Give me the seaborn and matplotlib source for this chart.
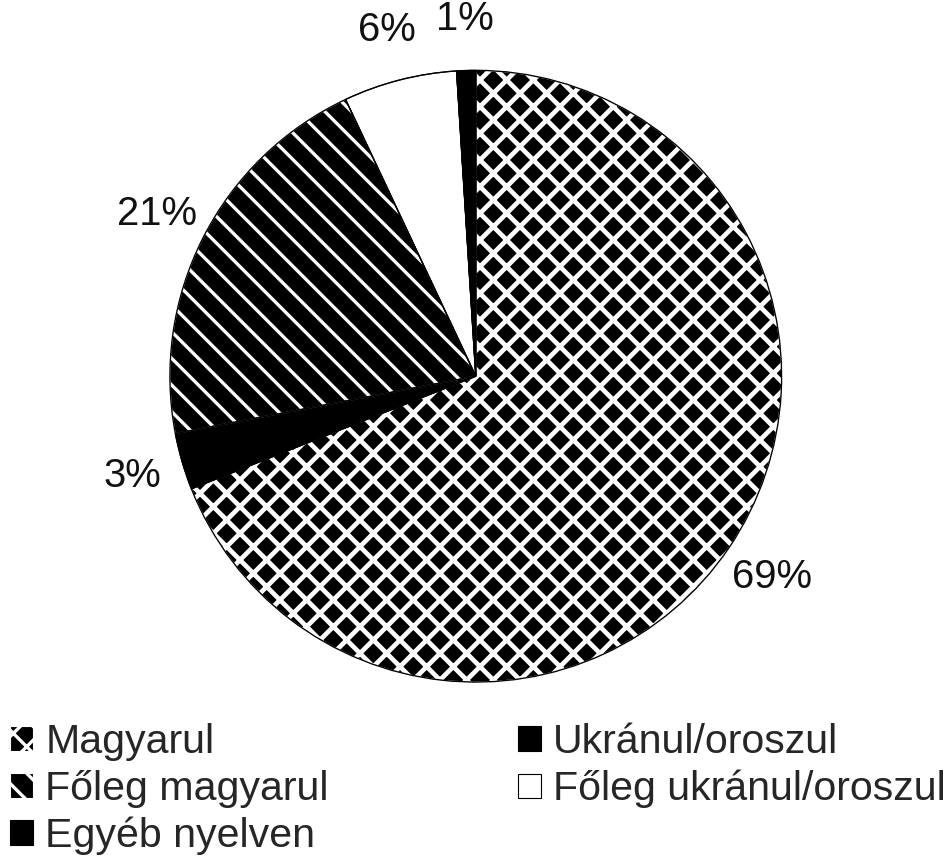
import matplotlib
matplotlib.use("Agg")
import matplotlib.pyplot as plt
import seaborn as sns

# ==============================
# DATA
# ==============================

# slices in clockwise order starting at 12 o'clock
languages = ["Magyarul", "Egyéb nyelven", "Főleg magyarul",
             "Főleg ukránul/oroszul", "Ukránul/oroszul"]
shares = [69, 3, 21, 6, 1]

legend_order = ["Magyarul", "Főleg magyarul", "Egyéb nyelven",
                "Ukránul/oroszul", "Főleg ukránul/oroszul"]

# ==============================
# STYLE
# ==============================

face = {"Magyarul": "black", "Egyéb nyelven": "black", "Főleg magyarul": "black",
        "Főleg ukránul/oroszul": "white", "Ukránul/oroszul": "black"}
hatch = {"Magyarul": "x", "Főleg magyarul": "\\"}
hatch_lw = {"Magyarul": 4.2, "Főleg magyarul": 3.0}

sns.set_theme(style="white")
plt.rcParams["font.family"] = ["Liberation Sans", "DejaVu Sans"]
plt.rcParams["hatch.linewidth"] = 3.0

fig = plt.figure(figsize=(11.8, 10.7), dpi=80)
ax = fig.add_axes([0.180, 0.203, 0.648, 0.715])

# filled slices (hatch drawn in white on black)
wedges, _ = ax.pie(shares, startangle=90, counterclock=False,
                   colors=[face[l] for l in languages],
                   wedgeprops=dict(linewidth=1))
for w, lang in zip(wedges, languages):
    if lang in hatch:
        w.set_hatch(hatch[lang])
        w.set_edgecolor("white")
        if hasattr(w, "set_hatch_linewidth"):
            w.set_hatch_linewidth(hatch_lw[lang])
    else:
        w.set_edgecolor("black")

# black outlines + percent labels
ax.pie(shares, startangle=90, counterclock=False,
       autopct="%.0f%%", pctdistance=1.17,
       wedgeprops=dict(facecolor="none", edgecolor="black", linewidth=1.2),
       textprops=dict(fontsize=36, color="#111111"))
ax.set_xlim(-1, 1)
ax.set_ylim(-1, 1)

handles = [wedges[languages.index(l)] for l in legend_order]
fig.legend(handles, legend_order, loc="upper left", bbox_to_anchor=(0.011, 0.155),
           ncol=2, frameon=False, fontsize=37, handlelength=0.55, handleheight=0.55,
           handletextpad=0.3, columnspacing=4.6, labelspacing=0.21,
           borderpad=0, borderaxespad=0)

fig.savefig("out.png", dpi=80, facecolor="white")
